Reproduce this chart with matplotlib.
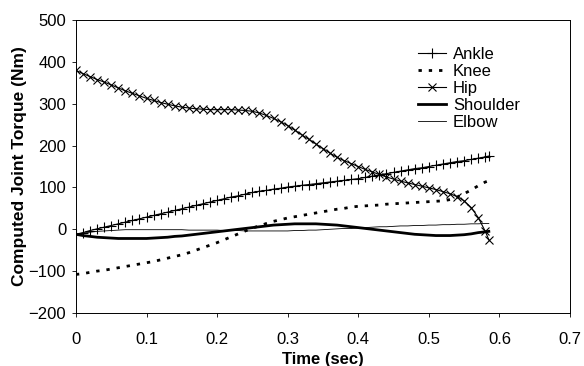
import matplotlib
matplotlib.use("Agg")
import matplotlib.pyplot as plt

plt.rcParams['font.family'] = ['Liberation Sans', 'DejaVu Sans']

# ---- data (0.01 s steps) ----
time = [0.00, 0.01, 0.02, 0.03, 0.04, 0.05, 0.06, 0.07, 0.08, 0.09,
        0.10, 0.11, 0.12, 0.13, 0.14, 0.15, 0.16, 0.17, 0.18, 0.19,
        0.20, 0.21, 0.22, 0.23, 0.24, 0.25, 0.26, 0.27, 0.28, 0.29,
        0.30, 0.31, 0.32, 0.33, 0.34, 0.35, 0.36, 0.37, 0.38, 0.39,
        0.40, 0.41, 0.42, 0.43, 0.44, 0.45, 0.46, 0.47, 0.48, 0.49,
        0.50, 0.51, 0.52, 0.53, 0.54, 0.55, 0.56, 0.57, 0.58, 0.585]

ankle = [-12, -8, -3, 1, 5, 9, 13, 17, 21, 25,
         29, 33, 37, 41, 45, 49, 53, 57, 61, 65,
         69, 73, 77, 80, 84, 88, 91, 93, 96, 98,
         101, 103, 105, 107, 109, 111, 113, 115, 117, 119,
         121, 124, 127, 130, 133, 136, 139, 142, 145, 147,
         150, 153, 156, 159, 162, 164, 167, 170, 173, 175]

knee = [-108, -106, -103, -100, -98, -95, -92, -89, -86, -83,
        -80, -77, -73, -69, -65, -61, -56, -50, -44, -38,
        -32, -25, -18, -11, -4, 3, 8, 14, 19, 23,
        27, 30, 33, 36, 39, 42, 45, 48, 50, 53,
        55, 56, 57, 58, 60, 61, 62, 63, 64, 65,
        66, 67, 68, 71, 77, 85, 94, 104, 113, 116]

hip = [380, 372, 365, 358, 352, 345, 338, 331, 325, 319,
       313, 308, 303, 299, 295, 292, 290, 288, 287, 286,
       286, 286, 286, 285, 284, 282, 278, 272, 265, 257,
       248, 237, 226, 215, 204, 193, 182, 172, 164, 157,
       150, 143, 137, 131, 125, 120, 115, 111, 107, 103,
       99, 95, 90, 85, 78, 68, 52, 28, -5, -25]

shoulder = [-12, -15, -17, -19, -20, -21, -22, -22, -22, -22,
            -22, -21, -20, -19, -17, -16, -14, -12, -10, -8,
            -6, -4, -2, 0, 2, 4, 6, 8, 10, 11,
            12, 13, 13, 13, 13, 12, 11, 10, 8, 6,
            4, 2, 0, -2, -4, -6, -8, -10, -12, -13,
            -14, -15, -15, -15, -14, -13, -11, -8, -6, -5]

elbow = [-12, -9, -7, -5, -4, -3, -2, -1, -1, -1,
         -1, -1, -1, -1, -1, -1, -2, -2, -2, -2,
         -2, -3, -3, -3, -4, -4, -4, -4, -4, -4,
         -4, -3, -3, -2, -2, -1, 0, 1, 2, 2,
         3, 4, 5, 6, 6, 7, 8, 8, 9, 9,
         10, 10, 11, 11, 12, 12, 13, 13, 14, 14]

xticks = [0, 0.1, 0.2, 0.3, 0.4, 0.5, 0.6, 0.7]
xticklabels = ["0", "0.1", "0.2", "0.3", "0.4", "0.5", "0.6", "0.7"]
yticks = [-200, -100, 0, 100, 200, 300, 400, 500]

fig = plt.figure(figsize=(5.84, 3.66), dpi=100)
ax = fig.add_axes([0.130, 0.145, 0.846, 0.800])

ax.plot(time, ankle, color="black", lw=0.8, marker="+", ms=7, mew=0.8, label="Ankle")
ax.plot(time, knee, color="black", lw=2.0, ls=(0, (1.2, 2.5)), label="Knee")
ax.plot(time, hip, color="black", lw=0.8, marker="x", ms=6, mew=0.8, label="Hip")
ax.plot(time, shoulder, color="black", lw=2.0, label="Shoulder")
ax.plot(time, elbow, color="black", lw=0.6, label="Elbow")

ax.set_xlim(0, 0.7)
ax.set_ylim(-200, 500)
ax.set_xticks(xticks)
ax.set_xticklabels(xticklabels)
ax.set_yticks(yticks)
ax.tick_params(labelsize=12, length=3, width=0.6)
ax.tick_params(axis="x", pad=10.5)
ax.tick_params(axis="y", pad=4)
for s in ax.spines.values():
    s.set_linewidth(0.7)

ax.set_xlabel("Time (sec)", fontsize=12, fontweight="bold", labelpad=4)
ax.set_ylabel("Computed Joint Torque (Nm)", fontsize=12.5, fontweight="bold", labelpad=1)

ax.legend(loc="upper left", bbox_to_anchor=(0.679, 0.931), frameon=False, fontsize=12,
          handlelength=1.7, handletextpad=0.4, labelspacing=0.12, borderaxespad=0)

fig.savefig("out.png", dpi=100)
